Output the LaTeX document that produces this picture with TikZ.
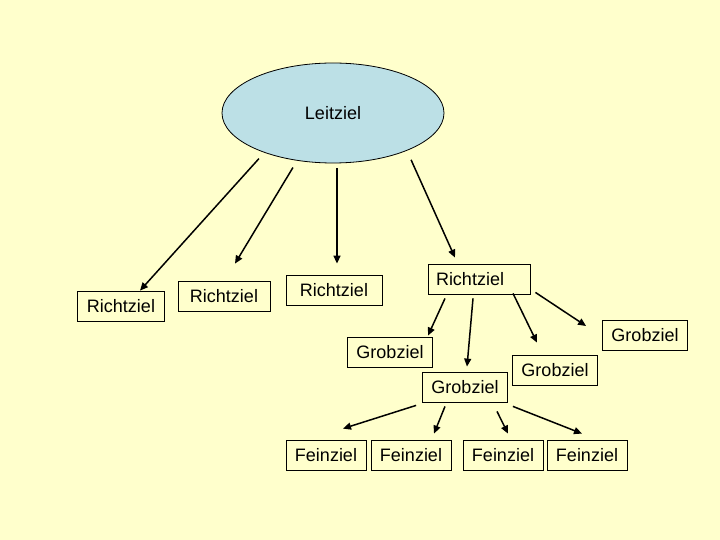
\documentclass[tikz,border=0pt]{standalone}
\usepackage{fontspec}
\setmainfont{Liberation Sans}
\usepackage{tikz}
\usetikzlibrary{shapes.geometric, arrows.meta, positioning}
\definecolor{paper}{HTML}{FFFFCC}
\definecolor{skyfill}{HTML}{BCE0E6}

\begin{document}
\begin{tikzpicture}[
  x=1pt, y=-1pt,
  zielbox/.style={rectangle, draw=black, line width=0.8pt, minimum height=30pt, inner xsep=9pt, inner ysep=0pt, font=\fontsize{18}{21}\selectfont},
  leitell/.style={ellipse, draw=black, line width=0.8pt, fill=skyfill, minimum width=222pt, minimum height=100pt, inner sep=0pt, font=\fontsize{18}{21}\selectfont},
  arr/.style={-{Triangle[length=8pt, width=7pt]}, line width=1.5pt, draw=black},
]
%% Background
\fill[paper] (0,0) rectangle (720,540);
\useasboundingbox (0,0) rectangle (720,540);

%% Top goal
\node[leitell] (leit) at (333,113) {Leitziel};

%% Richtziele
\node[zielbox, minimum width=87pt]  (richt1) at (121,306) {Richtziel};
\node[zielbox, minimum width=92pt]  (richt2) at (224,296) {Richtziel};
\node[zielbox, minimum width=96pt]  (richt3) at (334,290) {Richtziel};
\node[zielbox, text width=86pt, inner xsep=8pt, align=left] (richt4) at (479,279) {Richtziel};

%% Grobziele
\node[zielbox] (grob1) at (390,352) {Grobziel};
\node[zielbox] (grob2) at (465,387) {Grobziel};
\node[zielbox] (grob3) at (555,370) {Grobziel};
\node[zielbox] (grob4) at (645,335) {Grobziel};

%% Feinziele
\node[zielbox] (fein1) at (326,455) {Feinziel};
\node[zielbox] (fein2) at (411,455) {Feinziel};
\node[zielbox] (fein3) at (503,455) {Feinziel};
\node[zielbox] (fein4) at (587,455) {Feinziel};

%% Leitziel -> Richtziele
\draw[arr, shorten <=8pt]  (leit.210) -- ([xshift=19pt]richt1.north);
\draw[arr, shorten <=8pt]  (leit.233) -- ([xshift=11pt, yshift=17pt]richt2.north);
\draw[arr, shorten <=5pt]  ([xshift=4pt]leit.south) -- ([xshift=3pt, yshift=11pt]richt3.north);
\draw[arr, shorten <=10pt] (leit.333) -- ([xshift=-24pt, yshift=6pt]richt4.north);

%% Richtziel -> Grobziele
\draw[arr] ([xshift=-34pt, yshift=-4pt]richt4.south) -- ([xshift=38pt, yshift=1pt]grob1.north);
\draw[arr] ([xshift=-6pt, yshift=-4pt]richt4.south)  -- ([xshift=2pt, yshift=5pt]grob2.north);
\draw[arr] ([xshift=34pt, yshift=1pt]richt4.south)   -- ([xshift=-18pt, yshift=12pt]grob3.north);
\draw[arr] ([xshift=5pt, yshift=2pt]richt4.south east) -- ([xshift=-16pt, yshift=9pt]grob4.west);

%% Grobziel -> Feinziele
\draw[arr] ([xshift=-6pt, yshift=-3pt]grob2.south west) -- ([xshift=17pt, yshift=11pt]fein1.north);
\draw[arr] ([xshift=-20pt, yshift=-4pt]grob2.south)     -- ([xshift=23pt, yshift=6pt]fein2.north);
\draw[arr] ([xshift=32pt, yshift=-9pt]grob2.south)      -- ([xshift=5pt, yshift=6pt]fein3.north);
\draw[arr] ([xshift=5pt, yshift=-4pt]grob2.south east)  -- ([xshift=-5pt, yshift=6pt]fein4.north);
\end{tikzpicture}
\end{document}
